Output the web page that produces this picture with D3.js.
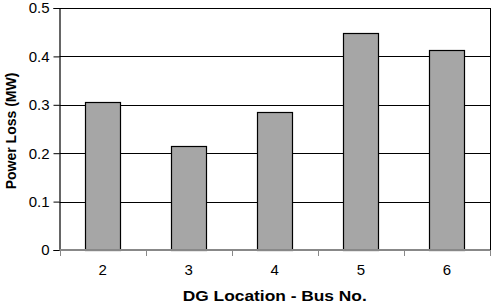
<!DOCTYPE html>
<html>
<head>
<meta charset="utf-8">
<script src="https://cdn.jsdelivr.net/npm/d3@7"></script>
<style>
  body { margin: 0; background: #fff; }
  text { font-family: Arial, "Liberation Sans", sans-serif; }
</style>
</head>
<body>
<div id="chart"></div>
<script>
var buses = ["2", "3", "4", "5", "6"];
var losses = [0.305, 0.215, 0.285, 0.448, 0.414];
var yTicks = [0, 0.1, 0.2, 0.3, 0.4, 0.5];

var width = 496,
    height = 304,
    margin = {top: 8, right: 6, bottom: 54, left: 59.5};

var x = d3.scaleBand()
    .domain(buses)
    .range([margin.left, width - margin.right])
    .paddingInner(0.59)
    .paddingOuter(0.295);

var y = d3.scaleLinear()
    .domain([0, 0.5])
    .range([height - margin.bottom, margin.top]);

var svg = d3.select("#chart").append("svg")
    .attr("width", width)
    .attr("height", height);

// grid lines
svg.append("g")
  .selectAll("line")
  .data(yTicks.slice(1))
  .enter().append("line")
    .attr("x1", margin.left)
    .attr("x2", width - margin.right)
    .attr("y1", function(d) { return Math.round(y(d)) + 0.5; })
    .attr("y2", function(d) { return Math.round(y(d)) + 0.5; })
    .attr("stroke", "#000")
    .attr("stroke-width", 1);

// right border
svg.append("line")
    .attr("x1", width - margin.right + 0.5)
    .attr("x2", width - margin.right + 0.5)
    .attr("y1", y(0.5))
    .attr("y2", y(0))
    .attr("stroke", "#000");

// bars
svg.append("g")
  .selectAll("rect")
  .data(losses)
  .enter().append("rect")
    .attr("x", function(d, i) { return Math.round(x(buses[i])) + 0.5; })
    .attr("y", function(d) { return Math.round(y(d)) + 0.5; })
    .attr("width", Math.round(x.bandwidth()))
    .attr("height", function(d) { return Math.round(y(0)) - Math.round(y(d)); })
    .attr("fill", "#a6a6a6")
    .attr("stroke", "#000")
    .attr("stroke-width", 1.2);

// y axis
var yAxis = svg.append("g")
    .attr("transform", "translate(" + margin.left + ",0)")
    .call(d3.axisLeft(y).tickValues(yTicks).tickSize(6).tickPadding(4)
      .tickFormat(function(d) { return d === 0 ? "0" : d3.format(".1f")(d); }));
yAxis.select(".domain").attr("stroke", "#000").attr("stroke-width", 1.2);
yAxis.selectAll(".tick line").attr("stroke", "#000");
yAxis.selectAll("text")
    .attr("font-size", 15)
    .attr("fill", "#000");

// x axis
var xAxis = svg.append("g")
    .attr("transform", "translate(0," + y(0) + ")");
xAxis.append("line")
    .attr("x1", margin.left)
    .attr("x2", width - margin.right)
    .attr("stroke", "#888")
    .attr("stroke-width", 2);
xAxis.selectAll(".sep")
  .data(d3.range(buses.length + 1))
  .enter().append("line")
    .attr("class", "sep")
    .attr("x1", function(i) { return Math.round(margin.left + i * x.step()) + 0.5; })
    .attr("x2", function(i) { return Math.round(margin.left + i * x.step()) + 0.5; })
    .attr("y1", 0)
    .attr("y2", 6)
    .attr("stroke", "#888");
xAxis.selectAll(".lbl")
  .data(buses)
  .enter().append("text")
    .attr("class", "lbl")
    .attr("x", function(d) { return x(d) + x.bandwidth() / 2; })
    .attr("y", 25)
    .attr("text-anchor", "middle")
    .attr("font-size", 15)
    .text(function(d) { return d; });

// titles
svg.append("text")
    .attr("x", (margin.left + width - margin.right) / 2)
    .attr("y", 301)
    .attr("text-anchor", "middle")
    .attr("font-size", 15)
    .attr("font-weight", "bold")
    .attr("textLength", 184)
    .attr("lengthAdjust", "spacingAndGlyphs")
    .text("DG Location - Bus No.");

svg.append("text")
    .attr("transform", "translate(16,131) rotate(-90)")
    .attr("text-anchor", "middle")
    .attr("font-size", 14)
    .attr("font-weight", "bold")
    .text("Power Loss (MW)");
</script>
</body>
</html>
